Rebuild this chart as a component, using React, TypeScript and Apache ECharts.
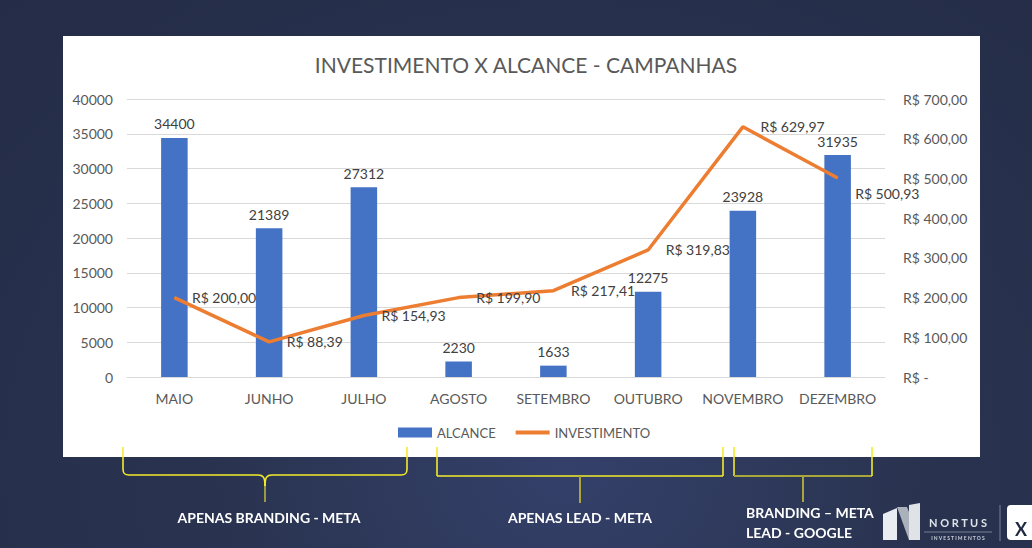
import React, { useEffect, useRef } from "react";
import * as echarts from "echarts";

const months = ["MAIO", "JUNHO", "JULHO", "AGOSTO", "SETEMBRO", "OUTUBRO", "NOVEMBRO", "DEZEMBRO"];
const alcance = [34400, 21389, 27312, 2230, 1633, 12275, 23928, 31935];
const investimento = [200.0, 88.39, 154.93, 199.9, 217.41, 319.83, 629.97, 500.93];
const groupLabels = ["APENAS BRANDING - META", "APENAS LEAD - META"];
const groupLabel3 = ["BRANDING – META", "LEAD - GOOGLE"];

const brl = (v: number) => "R$ " + v.toFixed(2).replace(".", ",");

const YEL = "#f3ec2a";
const OLV = "#a9a63c";
const FONT = "Lato, 'Open Sans', sans-serif";

export default function App() {
  const ref = useRef<HTMLDivElement>(null);
  useEffect(() => {
    document.body.style.margin = "0";
    const chart = echarts.init(ref.current!, undefined, { renderer: "svg" });
    const ln = (x1: number, y1: number, x2: number, y2: number, c = YEL, w = 1.6) => ({
      type: "line",
      z: 100,
      shape: { x1, y1, x2, y2 },
      style: { stroke: c, lineWidth: w },
    });
    const bz = (x1: number, y1: number, cx1: number, cy1: number, cx2: number, cy2: number, x2: number, y2: number, c = YEL) => ({
      type: "bezierCurve",
      z: 100,
      shape: { x1, y1, cpx1: cx1, cpy1: cy1, cpx2: cx2, cpy2: cy2, x2, y2 },
      style: { stroke: c, lineWidth: 1.6, fill: null },
    });
    const txt = (x: number, y: number, text: string, size: number, opts: any = {}) => ({
      type: "text",
      z: 100,
      x,
      y,
      style: {
        text,
        fill: "#ffffff",
        font: `${opts.weight || "bold"} ${size}px ${opts.family || FONT}`,
        align: opts.align || "center",
        verticalAlign: "middle",
        ...opts.style,
      },
    });

    chart.setOption({
      animation: false,
      textStyle: { fontFamily: FONT },
      title: {
        text: "INVESTIMENTO X ALCANCE - CAMPANHAS",
        left: 521,
        textAlign: "center",
        top: 49,
        textStyle: { color: "#595959", fontSize: 21, fontWeight: "normal", fontFamily: FONT },
      },
      legend: {
        left: 393,
        top: 421,
        itemGap: 20,
        itemWidth: 34,
        itemHeight: 10,
        symbolKeepAspect: true,
        textStyle: { color: "#595959", fontSize: 13, fontFamily: FONT },
        data: [
          { name: "ALCANCE", icon: "rect" },
          { name: "INVESTIMENTO", icon: "path://M0,0 L34,0 L34,4 L0,4 Z" },
        ],
      },
      grid: { left: 127, right: 147, top: 99, bottom: 171, containLabel: false },
      xAxis: {
        type: "category",
        data: months,
        axisLine: { lineStyle: { color: "#d9d9d9" } },
        axisTick: { show: false },
        axisLabel: { color: "#595959", fontSize: 14, margin: 14, interval: 0, fontFamily: FONT },
      },
      yAxis: [
        {
          type: "value",
          min: 0,
          max: 40000,
          interval: 5000,
          axisLine: { show: false },
          axisTick: { show: false },
          splitLine: { lineStyle: { color: "#d9d9d9", width: 1 } },
          axisLabel: {
            color: "#595959",
            fontSize: 14,
            margin: 14,
            fontFamily: FONT,
            formatter: (v: number) => String(v),
          },
        },
        {
          type: "value",
          min: 0,
          max: 700,
          interval: 100,
          position: "right",
          axisLine: { show: false },
          axisTick: { show: false },
          splitLine: { show: false },
          axisLabel: {
            color: "#595959",
            fontSize: 14,
            margin: 18,
            align: "left",
            fontFamily: FONT,
            formatter: (v: number) => (v === 0 ? "R$ -" : brl(v)),
          },
        },
      ],
      series: [
        {
          name: "ALCANCE",
          type: "bar",
          data: alcance,
          barWidth: "28%",
          itemStyle: { color: "#4472c4" },
          label: { show: true, position: "top", distance: 7, color: "#404040", fontSize: 14, fontFamily: FONT },
        },
        {
          name: "INVESTIMENTO",
          type: "line",
          yAxisIndex: 1,
          data: investimento.map((v, i) =>
            i === investimento.length - 1 ? { value: v, label: { offset: [0, 15] } } : v
          ),
          symbol: "circle",
          symbolSize: 1,
          showSymbol: true,
          itemStyle: { color: "#ed7d31" },
          lineStyle: { color: "#ed7d31", width: 3.5 },
          label: {
            show: true,
            position: "right",
            distance: 17,
            color: "#404040",
            fontSize: 14,
            fontFamily: FONT,
            formatter: (p: any) => brl(p.value),
          },
        },
      ],
      graphic: [
        // brace 1 (curly)
        ln(123, 447, 123, 469),
        bz(123, 469, 123, 474, 125, 475, 129, 475),
        ln(129, 475, 258, 475),
        bz(258, 475, 263, 475, 265, 477, 265, 486),
        ln(407, 447, 407, 469),
        bz(407, 469, 407, 474, 405, 475, 401, 475),
        ln(401, 475, 272, 475),
        bz(272, 475, 267, 475, 265, 477, 265, 486),
        ln(265, 486, 265, 502, OLV, 1.8),
        // bracket 2
        ln(437, 447, 437, 476),
        ln(437, 476, 723, 476),
        ln(723, 447, 723, 476),
        ln(580, 476, 580, 503, OLV, 2),
        // bracket 3
        ln(734, 447, 734, 476),
        ln(734, 476, 872, 476, OLV, 2),
        ln(872, 447, 872, 476),
        ln(803, 476, 803, 502, OLV, 2),
        // labels
        txt(269, 517, groupLabels[0], 14),
        txt(580, 517, groupLabels[1], 14),
        txt(746, 512, groupLabel3[0], 14, { align: "left" }),
        txt(746, 532, groupLabel3[1], 14, { align: "left" }),
        // logo
        {
          type: "polygon",
          z: 100,
          shape: { points: [[883, 514], [897, 508], [897, 540], [883, 540]] },
          style: { fill: "#e9ecf0" },
        },
        {
          type: "polygon",
          z: 100,
          shape: { points: [[897, 507], [907, 507], [920, 540], [909, 540]] },
          style: { fill: "#aab1bb" },
        },
        {
          type: "polygon",
          z: 100,
          shape: { points: [[909, 505], [920, 503], [920, 540], [909, 540]] },
          style: { fill: "#dfe3e8" },
        },
        txt(958, 522, "N O R T U S", 11, { style: { fill: "#dfe3ea" } }),
        ln(924, 532, 992, 532, "#8a93a6", 0.8),
        txt(958, 538, "I N V E S T I M E N T O S", 5, { style: { fill: "#c9ced8" } }),
        ln(1000, 505, 1000, 541, "#7a8398", 1),
        {
          type: "rect",
          z: 100,
          shape: { x: 1007, y: 505, width: 40, height: 35, r: 4 },
          style: { fill: "#ffffff" },
        },
        txt(1015, 529, "X", 18, { align: "left", style: { fill: "#1f2742" } }),
      ],
    });
    return () => chart.dispose();
  }, []);

  return (
    <div
      style={{
        position: "fixed",
        left: 0,
        top: 0,
        width: 1032,
        height: 548,
        overflow: "hidden",
        background: "radial-gradient(ellipse at 55% 85%, #34406a 0%, #29334f 45%, #242c47 100%)",
      }}
    >
      <div
        style={{ position: "absolute", left: 63, top: 36, width: 917, height: 421, background: "#ffffff" }}
      />
      <div ref={ref} style={{ position: "absolute", left: 0, top: 0, width: 1032, height: 548 }} />
    </div>
  );
}
